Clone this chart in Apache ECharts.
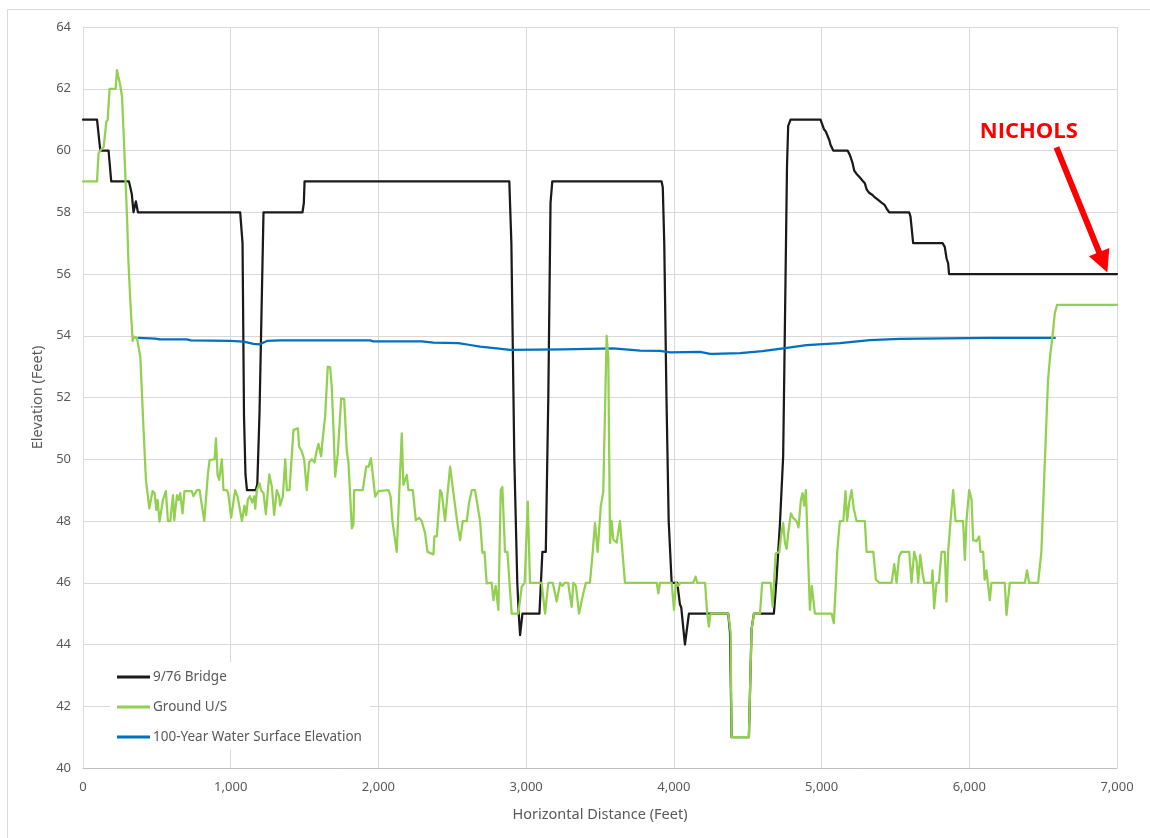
<!DOCTYPE html>
<html>
<head>
<meta charset="utf-8">
<title>Elevation Profile</title>
<script src="https://cdn.jsdelivr.net/npm/echarts@6/dist/echarts.min.js"></script>
<style>
  html, body { margin: 0; padding: 0; background: #ffffff; }
  #chart { width: 1150px; height: 838px; }
</style>
</head>
<body>
<div id="chart"></div>
<script>
// Horizontal distance (feet) / elevation (feet) pairs per profile

const bridgeX = [0, 95, 117, 173, 191, 311, 330, 342, 358, 372, 1064, 1080, 1090, 1100, 1110, 1170, 1180, 1195, 1222, 1486, 1495, 1500,
  2886, 2900, 2920, 2940, 2950, 2959, 2975, 3090, 3110, 3133, 3150, 3165, 3177, 3917, 3925, 3935, 3950, 3965, 3985, 4023, 4041, 4050,
  4075, 4102, 4368, 4380, 4391, 4508, 4526, 4542, 4677, 4695, 4718, 4740, 4747, 4766, 4774, 4790, 4993, 5016, 5029, 5052, 5061, 5079,
  5176, 5192, 5210, 5221, 5237, 5255, 5278, 5293, 5305, 5322, 5345, 5361, 5383, 5406, 5428, 5440, 5458, 5593, 5602, 5620, 5819, 5834,
  5846, 5857, 5863, 7000];
const bridgeY = [61, 61, 60, 60, 59, 59, 58.6, 58, 58.35, 58, 58, 57, 51.4, 49.5, 49, 49, 49.2, 51.5, 58, 58, 58.3, 59,
  59, 57, 50, 46, 45, 44.3, 45, 45, 47, 47, 52, 58.3, 59, 59, 58.8, 57, 52, 48, 46, 46, 45.3, 45.2,
  44, 45, 45, 44.4, 41, 41, 44.5, 45, 45, 46.1, 47.9, 50.1, 52.6, 59.5, 60.8, 61, 61, 60.69, 60.61, 60.34, 60.18, 60,
  60, 59.85, 59.59, 59.35, 59.24, 59.15, 59.02, 58.94, 58.74, 58.63, 58.56, 58.48, 58.4, 58.31, 58.23, 58.12, 58, 58, 57.86, 57, 57, 56.88,
  56.51, 56.34, 56, 56];

const groundX = [0, 95, 105, 117, 140, 158, 167, 180, 221, 230, 252, 264, 275, 286, 298, 307, 320, 336, 342, 365, 388, 410, 426, 449,
  471, 485, 496, 505, 518, 541, 561, 575, 591, 609, 618, 636, 647, 658, 674, 687, 737, 748, 771, 789, 821, 846, 857, 891, 900, 911,
  922, 940, 951, 974, 983, 1003, 1030, 1046, 1076, 1093, 1105, 1116, 1130, 1146, 1159, 1166, 1177, 1195, 1205, 1222, 1238, 1261,
  1279, 1294, 1312, 1328, 1335, 1353, 1369, 1380, 1398, 1425, 1455, 1463, 1481, 1497, 1515, 1531, 1549, 1567, 1583, 1594, 1612,
  1624, 1639, 1657, 1673, 1684, 1696, 1707, 1725, 1748, 1768, 1786, 1797, 1809, 1820, 1831, 1836, 1894, 1917, 1933, 1949, 1962,
  1978, 2000, 2068, 2082, 2095, 2106, 2124, 2135, 2158, 2169, 2192, 2203, 2233, 2253, 2276, 2293, 2316, 2332, 2372, 2379, 2395,
  2418, 2429, 2451, 2485, 2508, 2535, 2553, 2571, 2598, 2614, 2632, 2654, 2688, 2704, 2718, 2733, 2767, 2778, 2794, 2812, 2828,
  2839, 2857, 2873, 2902, 2947, 2970, 2990, 3011, 3026, 3105, 3128, 3150, 3180, 3207, 3230, 3245, 3261, 3284, 3308, 3320, 3337,
  3358, 3387, 3405, 3432, 3450, 3466, 3484, 3505, 3522, 3534, 3545, 3556, 3568, 3579, 3590, 3613, 3635, 3669, 3884, 3895, 3906,
  3985, 4001, 4014, 4029, 4045, 4131, 4147, 4158, 4211, 4226, 4237, 4248, 4368, 4384, 4391, 4508, 4526, 4542, 4583, 4598, 4655,
  4669, 4678, 4689, 4714, 4725, 4740, 4752, 4763, 4774, 4792, 4808, 4830, 4844, 4860, 4871, 4882, 4894, 4914, 4921, 4934, 4955,
  5022, 5068, 5083, 5097, 5106, 5124, 5147, 5162, 5173, 5187, 5203, 5218, 5237, 5293, 5305, 5350, 5368, 5390, 5474, 5492, 5508,
  5525, 5541, 5564, 5593, 5609, 5627, 5643, 5654, 5668, 5684, 5695, 5744, 5751, 5762, 5778, 5794, 5812, 5834, 5846, 5857, 5873,
  5891, 5907, 5958, 5970, 5981, 5999, 6015, 6026, 6049, 6067, 6076, 6094, 6104, 6116, 6139, 6150, 6240, 6252, 6274, 6376, 6391,
  6405, 6466, 6488, 6511, 6533, 6549, 6563, 6579, 6594, 7000];
const groundY = [59, 59, 59.9, 60, 60.12, 60.93, 61, 62, 62, 62.6, 62.12, 61.74, 60.56, 59.26, 57.86, 56.45, 55.16, 53.83, 53.97, 53.93, 53.32, 50.95, 49.33, 48.41,
  48.97, 48.9, 48.36, 48.68, 47.98, 48.68, 48.97, 48, 48, 48.84, 48.03, 48.84, 48.68, 48.9, 48.25, 48.97, 48.97, 48.8, 49, 49, 48, 49.54, 49.97, 50, 50.68, 49.49,
  49.33, 50, 49, 49, 48.9, 48.11, 49, 48.8, 48, 48.5, 48.19, 48.7, 48.8, 48.6, 48.8, 48.4, 49, 49.22, 49, 48.9, 48.22, 49.51,
  49.1, 48.2, 49, 48.8, 48.5, 48.8, 50, 49, 49, 50.95, 51, 50.41, 50.25, 50, 49, 49.9, 50, 49.9, 50.3, 50.5, 50.1,
  50.73, 51.38, 53, 52.98, 52.35, 50.95, 49.44, 50.19, 51.97, 51.95, 50.25, 49.9, 48.79, 47.76, 47.9, 49, 49, 49.76, 49.76, 50.03, 49.5,
  48.79, 48.97, 49, 48.8, 47.98, 48, 47, 47, 50.84, 49.17, 49.49, 49, 49, 48.03, 48.1, 48, 47.6, 47, 46.92, 47.5, 47.5,
  49, 48.9, 48, 49.76, 48.9, 47.9, 47.38, 48, 48, 48.6, 49, 49, 48, 46.97, 47, 45.98, 46, 45.44, 45.9, 45.12, 49,
  49.1, 47, 47, 45, 45, 45.87, 46, 48.63, 46, 46, 45, 46, 46, 45.39, 46, 45.9, 46, 46, 45.22, 46, 45.9,
  45, 45.66, 46, 46, 46.95, 47.93, 47, 48.46, 48.95, 49, 54, 53.3, 47.28, 48, 47.4, 47.3, 48, 46, 46, 45.66, 46,
  46, 45.12, 46, 45.9, 46, 46, 46.2, 46, 46, 45, 44.58, 45, 45, 44.4, 41, 41, 44.47, 45, 45, 46, 46,
  45.23, 46, 46.95, 47, 47.49, 47.93, 47.3, 47.1, 47.6, 48.25, 48.1, 48, 47.79, 48.68, 48.9, 48.5, 49, 46.1, 45.12, 45.9, 45,
  45, 45, 44.69, 46, 47, 48, 48, 48.97, 48, 48.6, 49, 48.4, 48, 48, 47, 47, 46.1, 46, 46, 46.6, 46,
  46.85, 47, 47, 47, 46, 47, 46.7, 46, 46.9, 46.3, 46, 46, 46.4, 45.17, 46, 46, 47, 47, 45.39, 47, 48,
  49, 48, 48, 46.74, 48, 49, 48.7, 47.38, 47.35, 47.5, 47, 47, 46.1, 46.4, 45.44, 46, 46, 44.96, 46, 46, 46.4,
  46, 46, 47, 49.87, 52.57, 53.43, 53.97, 54.73, 55, 55];

const waterX = [376, 489, 520, 703, 730, 997, 1087, 1154, 1195, 1245, 1335, 1944, 1965, 2293, 2372, 2541, 2621, 2688, 2801, 2891,
  3252, 3590, 3771, 3906, 3974, 4177, 4245, 4267, 4448, 4600, 4740, 4898, 5124, 5327, 5530, 6139, 6579];
const waterY = [53.93, 53.91, 53.88, 53.88, 53.85, 53.83, 53.81, 53.74, 53.72, 53.83, 53.85, 53.85, 53.82, 53.82, 53.78, 53.76, 53.70, 53.65, 53.59, 53.54,
  53.56, 53.59, 53.52, 53.51, 53.46, 53.48, 53.41, 53.41, 53.44, 53.50, 53.59, 53.70, 53.76, 53.86, 53.90, 53.93, 53.93];

const seriesNames = ['9/76 Bridge', 'Ground U/S', '100-Year Water Surface Elevation'];
const xTicks = [0, 1000, 2000, 3000, 4000, 5000, 6000, 7000];
const yTicks = [40, 42, 44, 46, 48, 50, 52, 54, 56, 58, 60, 62, 64];
const calloutText = 'NICHOLS';

const zip = (xs, ys) => xs.map((x, i) => [x, ys[i]]);

const FONT = '"Noto Sans", "Open Sans", sans-serif';
const LABEL_COLOR = '#595959';

const chart = echarts.init(document.getElementById('chart'), null, { renderer: 'canvas' });

function lineSeries(name, data, color, z) {
  return {
    name: name,
    type: 'line',
    data: data,
    showSymbol: false,
    symbol: 'none',
    smooth: false,
    z: z,
    lineStyle: { color: color, width: 2.25, cap: 'round', join: 'round' },
    itemStyle: { color: color },
    emphasis: { disabled: true }
  };
}

chart.setOption({
  animation: false,
  backgroundColor: '#ffffff',
  grid: { left: 83, right: 33, top: 27, bottom: 70, containLabel: false },
  xAxis: {
    type: 'value',
    min: xTicks[0],
    max: xTicks[xTicks.length - 1],
    interval: xTicks[1] - xTicks[0],
    name: 'Horizontal Distance (Feet)',
    nameLocation: 'middle',
    nameGap: 39,
    nameTextStyle: { color: LABEL_COLOR, fontFamily: FONT, fontSize: 14.5 },
    axisLine: { show: true, lineStyle: { color: '#bfbfbf', width: 1 } },
    axisTick: { show: false },
    axisLabel: {
      color: LABEL_COLOR, fontFamily: FONT, fontSize: 13, margin: 13,
      formatter: v => v.toLocaleString('en-US')
    },
    splitLine: { show: true, lineStyle: { color: '#d9d9d9', width: 1 } }
  },
  yAxis: {
    type: 'value',
    min: yTicks[0],
    max: yTicks[yTicks.length - 1],
    interval: yTicks[1] - yTicks[0],
    name: 'Elevation (Feet)',
    nameLocation: 'middle',
    nameGap: 38,
    nameRotate: 90,
    nameTextStyle: { color: LABEL_COLOR, fontFamily: FONT, fontSize: 14.5 },
    axisLine: { show: true, lineStyle: { color: '#d9d9d9', width: 1 } },
    axisTick: { show: false },
    axisLabel: { color: LABEL_COLOR, fontFamily: FONT, fontSize: 13, margin: 12 },
    splitLine: { show: true, lineStyle: { color: '#d9d9d9', width: 1 } }
  },
  legend: {
    orient: 'vertical',
    left: 110,
    top: 662,
    data: seriesNames,
    backgroundColor: '#ffffff',
    padding: [8, 8, 6, 7],
    itemGap: 16,
    itemWidth: 33,
    itemHeight: 3,
    icon: 'rect',
    textStyle: { color: LABEL_COLOR, fontFamily: FONT, fontSize: 13.5, padding: [0, 0, 0, -2] },
    selectedMode: false,
    z: 10
  },
  series: [
    lineSeries(seriesNames[0], zip(bridgeX, bridgeY), '#1a1a1a', 2),
    lineSeries(seriesNames[2], zip(waterX, waterY), '#0070c0', 3),
    lineSeries(seriesNames[1], zip(groundX, groundY), '#92d050', 4)
  ]
});

// Callout: label and arrow pointing at the east end of the bridge profile
const tip = chart.convertToPixel({ gridIndex: 0 }, [6935, 56.05]);
const tail = chart.convertToPixel({ gridIndex: 0 }, [6590, 60.1]);
const labelPos = chart.convertToPixel({ gridIndex: 0 }, [6403, 60.6]);

const dx = tip[0] - tail[0], dy = tip[1] - tail[1];
const len = Math.sqrt(dx * dx + dy * dy);
const ux = dx / len, uy = dy / len;
const nx = -uy, ny = ux;
const headLen = 22, headHalf = 11, shaftHalf = 3;
const bx = tip[0] - ux * headLen, by = tip[1] - uy * headLen;

chart.setOption({
  graphic: [
    {
      type: 'rect',
      silent: true,
      z: -10,
      shape: { x: 7.5, y: 9.5, width: 1160, height: 840 },
      style: { fill: null, stroke: '#d9d9d9', lineWidth: 1 }
    },
    {
      type: 'text',
      silent: true,
      z: 20,
      x: labelPos[0],
      y: labelPos[1],
      style: {
        text: calloutText,
        fill: '#ff0000',
        font: 'bold 22px "Open Sans", "Noto Sans", sans-serif',
        textAlign: 'center',
        textVerticalAlign: 'middle'
      }
    },
    {
      type: 'polygon',
      silent: true,
      z: 20,
      shape: {
        points: [
          [tail[0] + nx * shaftHalf, tail[1] + ny * shaftHalf],
          [bx + nx * shaftHalf, by + ny * shaftHalf],
          [bx + nx * headHalf, by + ny * headHalf],
          [tip[0], tip[1]],
          [bx - nx * headHalf, by - ny * headHalf],
          [bx - nx * shaftHalf, by - ny * shaftHalf],
          [tail[0] - nx * shaftHalf, tail[1] - ny * shaftHalf]
        ]
      },
      style: { fill: '#ff0000' }
    }
  ]
});
</script>
</body>
</html>
